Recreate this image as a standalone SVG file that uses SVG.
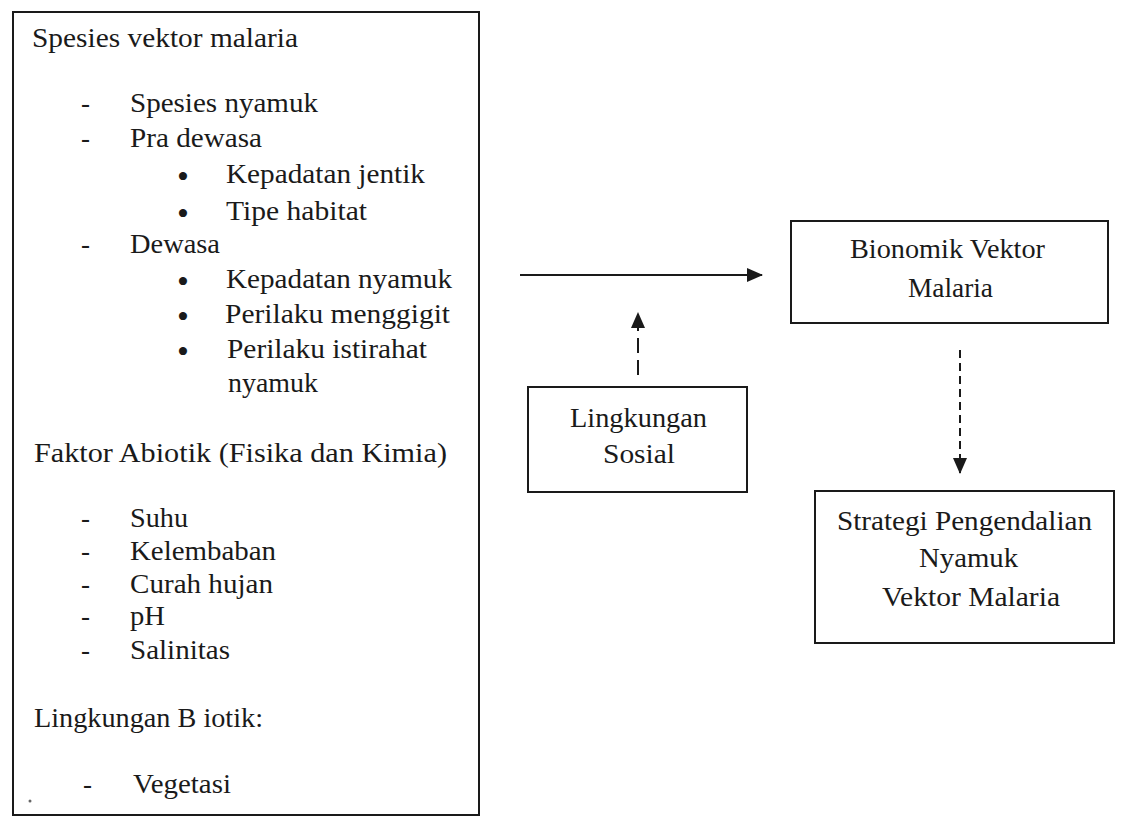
<svg xmlns="http://www.w3.org/2000/svg" width="1126" height="821" viewBox="0 0 1126 821">
<style>
.box{fill:none;stroke:#1a1a1a;stroke-width:2}
.t{font-family:"Liberation Serif","Times New Roman",serif;font-size:27px;fill:#1a1a1a}
.b{font-family:"Liberation Serif","Times New Roman",serif;font-size:34px;fill:#1a1a1a}
.conn{stroke:#1a1a1a;stroke-width:2;fill:none}
</style>
<defs>
<marker id="ah" markerWidth="16" markerHeight="14" refX="15" refY="7" orient="auto" markerUnits="userSpaceOnUse">
<path d="M0,0 L16,7 L0,14 Z" fill="#1a1a1a"/>
</marker>
</defs>
<rect width="1126" height="821" fill="#ffffff"/>

<g id="faktor">
<rect class="box" x="13" y="12" width="466" height="803"/>
<text class="t" x="32" y="47" textLength="266" lengthAdjust="spacingAndGlyphs">Spesies vektor malaria</text>
<text class="t" x="81" y="112">-</text>
<text class="t" x="130" y="112" textLength="188" lengthAdjust="spacingAndGlyphs">Spesies nyamuk</text>
<text class="t" x="81" y="147">-</text>
<text class="t" x="130" y="147" textLength="132" lengthAdjust="spacingAndGlyphs">Pra dewasa</text>
<text class="b" x="177" y="188">•</text>
<text class="t" x="226" y="183" textLength="199" lengthAdjust="spacingAndGlyphs">Kepadatan jentik</text>
<text class="b" x="177" y="225">•</text>
<text class="t" x="226" y="220" textLength="141" lengthAdjust="spacingAndGlyphs">Tipe habitat</text>
<text class="t" x="81" y="253">-</text>
<text class="t" x="130" y="253" textLength="90" lengthAdjust="spacingAndGlyphs">Dewasa</text>
<text class="b" x="177" y="293">•</text>
<text class="t" x="226" y="288" textLength="226" lengthAdjust="spacingAndGlyphs">Kepadatan nyamuk</text>
<text class="b" x="177" y="328">•</text>
<text class="t" x="225" y="323" textLength="225" lengthAdjust="spacingAndGlyphs">Perilaku menggigit</text>
<text class="b" x="177" y="363">•</text>
<text class="t" x="227" y="358" textLength="200" lengthAdjust="spacingAndGlyphs">Perilaku istirahat</text>
<text class="t" x="228" y="392" textLength="90" lengthAdjust="spacingAndGlyphs">nyamuk</text>
<text class="t" x="34" y="462" textLength="413" lengthAdjust="spacingAndGlyphs">Faktor Abiotik (Fisika dan Kimia)</text>
<text class="t" x="81" y="527">-</text>
<text class="t" x="130" y="527" textLength="58" lengthAdjust="spacingAndGlyphs">Suhu</text>
<text class="t" x="81" y="560">-</text>
<text class="t" x="130" y="560" textLength="146" lengthAdjust="spacingAndGlyphs">Kelembaban</text>
<text class="t" x="81" y="593">-</text>
<text class="t" x="130" y="593" textLength="143" lengthAdjust="spacingAndGlyphs">Curah hujan</text>
<text class="t" x="81" y="625">-</text>
<text class="t" x="130" y="625" textLength="35" lengthAdjust="spacingAndGlyphs">pH</text>
<text class="t" x="81" y="659">-</text>
<text class="t" x="130" y="659" textLength="100" lengthAdjust="spacingAndGlyphs">Salinitas</text>
<text class="t" x="34" y="727" textLength="229" lengthAdjust="spacingAndGlyphs">Lingkungan B iotik:</text>
<text class="t" x="83" y="793">-</text>
<text class="t" x="133" y="793" textLength="98" lengthAdjust="spacingAndGlyphs">Vegetasi</text>
<circle cx="30" cy="801" r="1.5" fill="#666"/>
</g>

<g id="bionomik">
<rect class="box" x="791" y="221" width="317" height="102"/>
<text class="t" x="850" y="258" textLength="195" lengthAdjust="spacingAndGlyphs">Bionomik Vektor</text>
<text class="t" x="908" y="297" textLength="85" lengthAdjust="spacingAndGlyphs">Malaria</text>
</g>

<g id="sosial">
<rect class="box" x="528" y="387" width="219" height="105"/>
<text class="t" x="570" y="427" textLength="137" lengthAdjust="spacingAndGlyphs">Lingkungan</text>
<text class="t" x="603" y="463" textLength="72" lengthAdjust="spacingAndGlyphs">Sosial</text>
</g>

<g id="strategi">
<rect class="box" x="815" y="491" width="299" height="152"/>
<text class="t" x="837" y="530" textLength="255" lengthAdjust="spacingAndGlyphs">Strategi Pengendalian</text>
<text class="t" x="919" y="567" textLength="99" lengthAdjust="spacingAndGlyphs">Nyamuk</text>
<text class="t" x="882" y="606" textLength="178" lengthAdjust="spacingAndGlyphs">Vektor Malaria</text>
</g>

<g id="connectors">
<line class="conn" x1="520" y1="275" x2="762" y2="275" marker-end="url(#ah)"/>
<line class="conn" x1="638" y1="375" x2="638" y2="313" stroke-dasharray="15 7" marker-end="url(#ah)"/>
<line class="conn" x1="960" y1="350" x2="960" y2="473" stroke-dasharray="8 5" marker-end="url(#ah)"/>
</g>
</svg>
